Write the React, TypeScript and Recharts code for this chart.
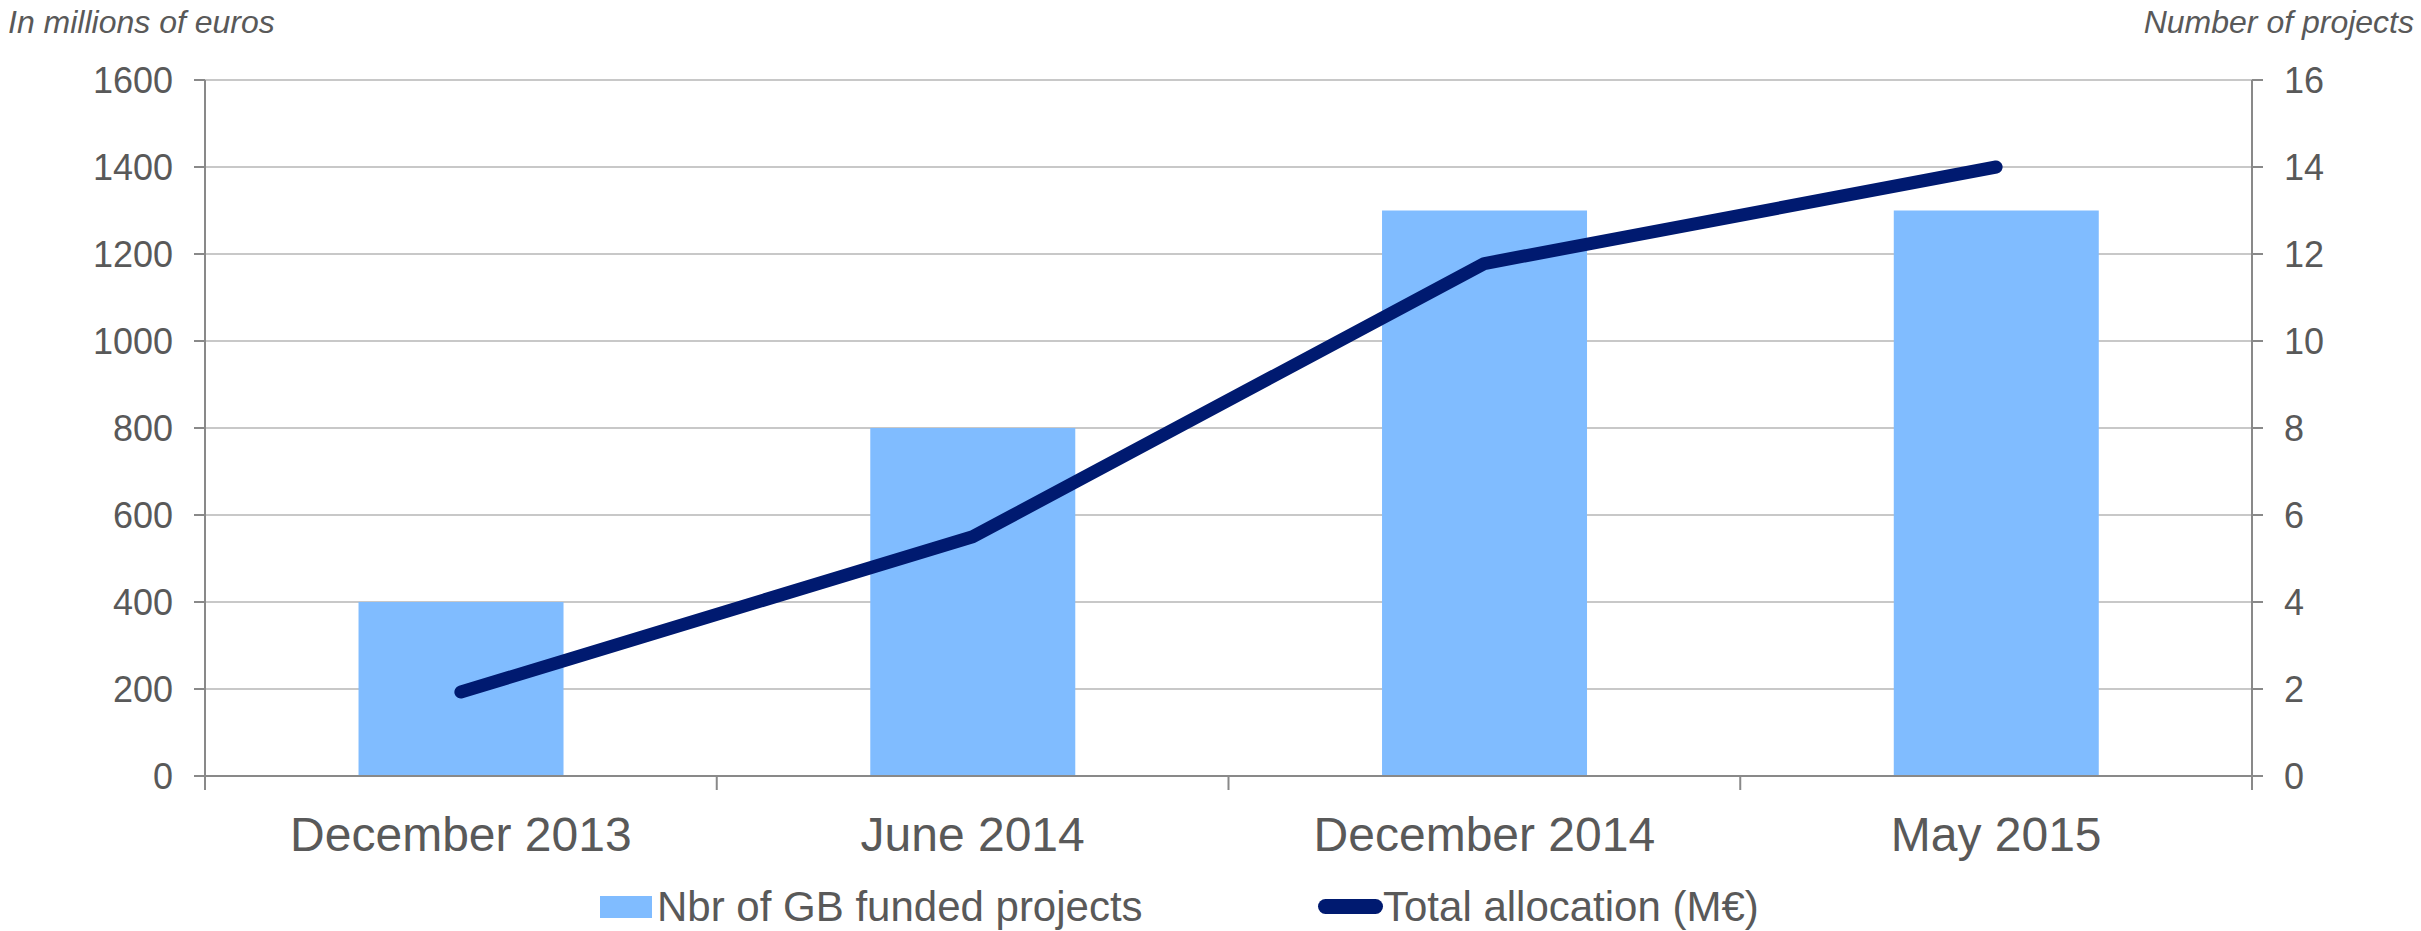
import {
  ComposedChart,
  Bar,
  Line,
  XAxis,
  YAxis,
  CartesianGrid,
  Legend,
} from "recharts";

const months = ["December 2013", "June 2014", "December 2014", "May 2015"];
const fundedProjects = [4, 8, 13, 13];
const totalAllocation = [193, 550, 1178, 1400];
const allocationTicks = [0, 200, 400, 600, 800, 1000, 1200, 1400, 1600];
const projectTicks = [0, 2, 4, 6, 8, 10, 12, 14, 16];

const CHART_W = 2421;
const CHART_H = 931;
const LEFT_W = 205;
const RIGHT_W = 169;
const FONT = '"Liberation Sans", Arial, sans-serif';
const TEXT = "#595959";
const AXIS = "#898989";
const GRID = "#c8c8c8";
const BAR_COLOR = "#80bcff";
const LINE_COLOR = "#001a70";

const data = months.map((m, i) => ({
  month: m,
  projects: fundedProjects[i],
  allocation: totalAllocation[i],
}));

// bottom axis: labels at band centres, tick marks at band edges
function CategoryTick(props: any) {
  const { x, y, payload, index, visibleTicksCount } = props;
  const half = (CHART_W - LEFT_W - RIGHT_W) / months.length / 2;
  return (
    <g>
      <line x1={x - half} x2={x - half} y1={y} y2={y + 14} stroke={AXIS} strokeWidth={2} />
      {index === visibleTicksCount - 1 && (
        <line x1={x + half} x2={x + half} y1={y} y2={y + 14} stroke={AXIS} strokeWidth={2} />
      )}
      <text x={x} y={y + 75} textAnchor="middle" fill={TEXT} fontSize={48} fontFamily={FONT}>
        {payload.value}
      </text>
    </g>
  );
}

function LegendContent(props: any) {
  const items = props.payload ?? [];
  const bar = items.find((p: any) => p.dataKey === "projects");
  const line = items.find((p: any) => p.dataKey === "allocation");
  const label = {
    position: "absolute" as const,
    top: 15,
    fontSize: 42,
    lineHeight: "42px",
    color: TEXT,
    fontFamily: FONT,
    whiteSpace: "nowrap" as const,
  };
  return (
    <div style={{ position: "relative", width: CHART_W, height: 60 }}>
      {bar && (
        <>
          <div style={{ position: "absolute", left: 600, top: 25, width: 52, height: 22, background: bar.color }} />
          <div style={{ ...label, left: 657 }}>{bar.value}</div>
        </>
      )}
      {line && (
        <>
          <div
            style={{
              position: "absolute",
              left: 1318,
              top: 28,
              width: 65,
              height: 15,
              borderRadius: 8,
              background: line.color,
            }}
          />
          <div style={{ ...label, left: 1383 }}>{line.value}</div>
        </>
      )}
    </div>
  );
}

export default function App() {
  const tickStyle = { fill: TEXT, fontSize: 36, fontFamily: FONT };
  const titleStyle = {
    position: "absolute" as const,
    top: 6,
    fontSize: 32,
    lineHeight: "32px",
    fontStyle: "italic",
    color: TEXT,
    fontFamily: FONT,
    whiteSpace: "nowrap" as const,
  };
  return (
    <div style={{ position: "absolute", left: 0, top: 0, width: CHART_W, height: CHART_H, background: "#fff" }}>
      <div style={{ ...titleStyle, left: 8 }}>In millions of euros</div>
      <div style={{ ...titleStyle, right: 7 }}>Number of projects</div>
      <ComposedChart
        width={CHART_W}
        height={CHART_H}
        data={data}
        margin={{ top: 80, right: 0, bottom: 0, left: 0 }}
        barCategoryGap="30%"
      >
        <CartesianGrid yAxisId="left" vertical={false} stroke={GRID} strokeWidth={2} />
        <XAxis
          dataKey="month"
          height={95}
          tickSize={0}
          tickMargin={0}
          tickLine={false}
          axisLine={{ stroke: AXIS, strokeWidth: 2 }}
          tick={<CategoryTick />}
          interval={0}
        />
        <YAxis
          yAxisId="left"
          width={LEFT_W}
          domain={[0, 1600]}
          ticks={allocationTicks}
          interval={0}
          tickSize={11}
          tickMargin={21}
          tick={tickStyle}
          axisLine={{ stroke: AXIS, strokeWidth: 2 }}
          tickLine={{ stroke: AXIS, strokeWidth: 2 }}
        />
        <YAxis
          yAxisId="right"
          orientation="right"
          width={RIGHT_W}
          domain={[0, 16]}
          ticks={projectTicks}
          interval={0}
          tickSize={11}
          tickMargin={21}
          tick={tickStyle}
          axisLine={{ stroke: AXIS, strokeWidth: 2 }}
          tickLine={{ stroke: AXIS, strokeWidth: 2 }}
        />
        <Legend
          verticalAlign="bottom"
          content={<LegendContent />}
          wrapperStyle={{ left: 0, width: CHART_W, height: 60 }}
        />
        <Bar
          yAxisId="right"
          dataKey="projects"
          name="Nbr of GB funded projects"
          fill={BAR_COLOR}
          isAnimationActive={false}
        />
        <Line
          yAxisId="left"
          dataKey="allocation"
          name="Total allocation (M€)"
          type="linear"
          stroke={LINE_COLOR}
          strokeWidth={13}
          strokeLinecap="round"
          strokeLinejoin="round"
          dot={false}
          activeDot={false}
          isAnimationActive={false}
        />
      </ComposedChart>
    </div>
  );
}
